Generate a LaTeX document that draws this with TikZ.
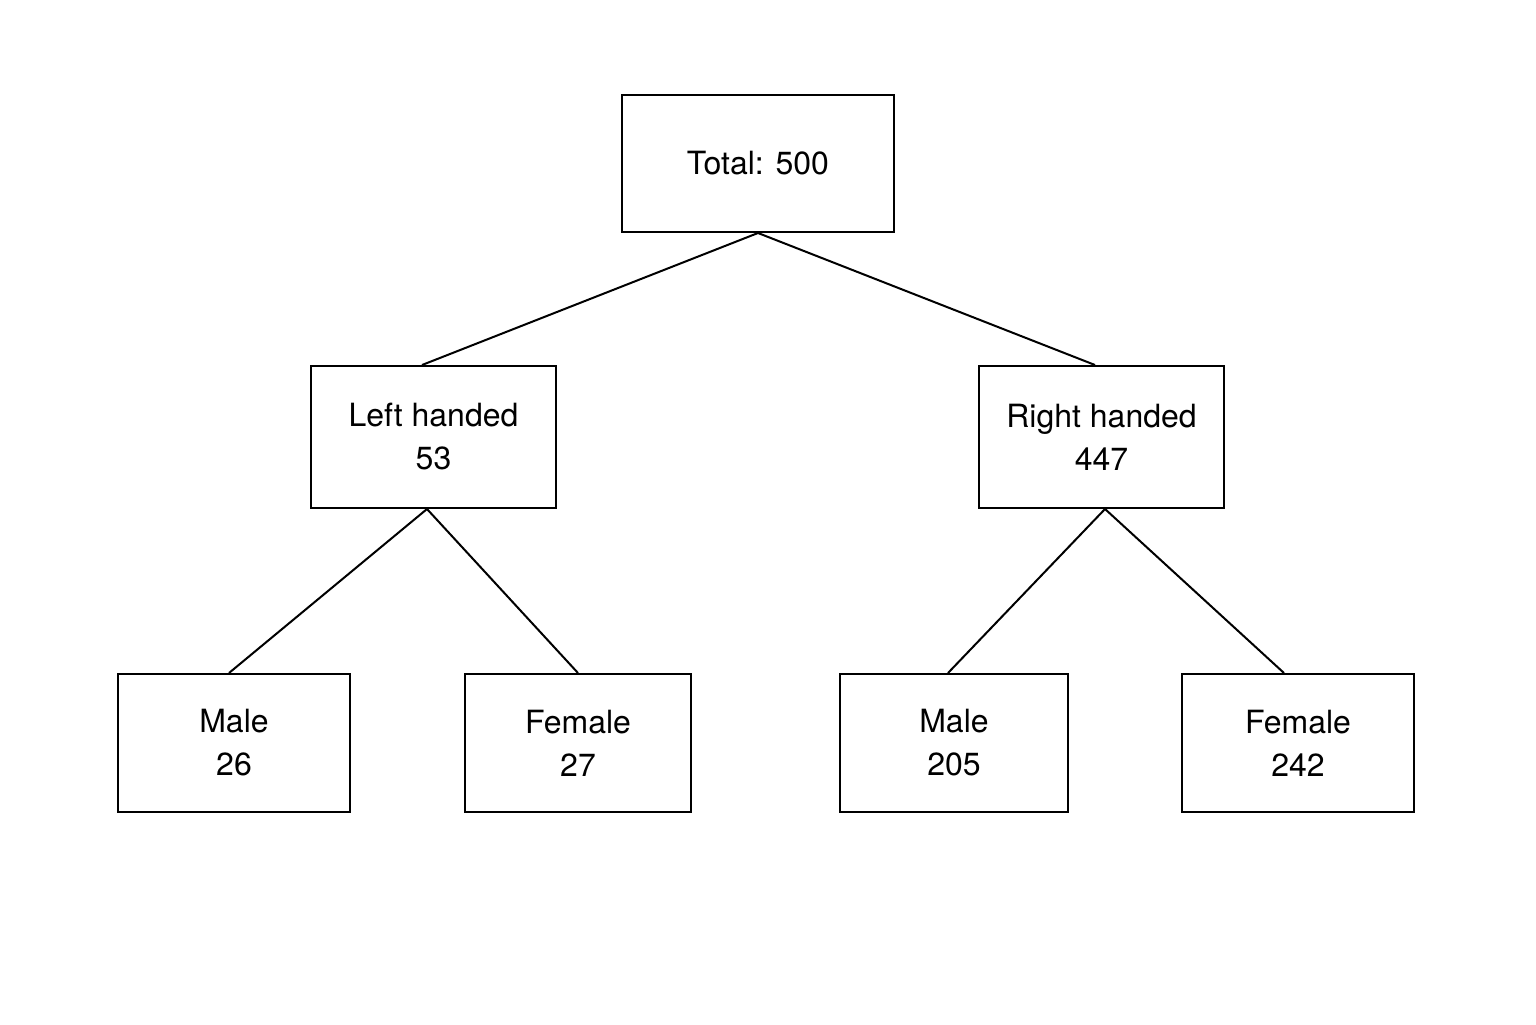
\documentclass[tikz,border=0pt]{standalone}
\usepackage{fontspec}
\setmainfont{TeX Gyre Heros}
\begin{document}
\begin{tikzpicture}[x=0.5pt,y=-0.5pt,
 box/.style={draw,line width=1pt,inner sep=0pt,align=center,font=\fontsize{16}{21.5}\selectfont},
 ln/.style={line width=1pt}]
\useasboundingbox (0,0) rectangle (1536,1024);
\node[box,minimum width=136pt,minimum height=68.5pt] (t) at (758,163.5) {Total: 500};
\node[box,minimum width=122.5pt,minimum height=71pt] (l) at (433.5,437) {Left handed\\53};
\node[box,minimum width=122.5pt,minimum height=71pt] (r) at (1101.5,437) {Right handed\\447};
\node[box,minimum width=116pt,minimum height=69pt] (lm) at (234,743) {Male\\26};
\node[box,minimum width=113pt,minimum height=69pt] (lf) at (578,743) {Female\\27};
\node[box,minimum width=114pt,minimum height=69pt] (rm) at (954,743) {Male\\205};
\node[box,minimum width=116pt,minimum height=69pt] (rf) at (1298,743) {Female\\242};
\draw[ln] (t.south) -- ([xshift=-5.75pt]l.north);
\draw[ln] (t.south) -- ([xshift=-3.25pt]r.north);
\draw[ln] ([xshift=-3.25pt]l.south) -- ([xshift=-2.5pt]lm.north);
\draw[ln] ([xshift=-3.25pt]l.south) -- (lf.north);
\draw[ln] ([xshift=1.75pt]r.south) -- ([xshift=-3pt]rm.north);
\draw[ln] ([xshift=1.75pt]r.south) -- ([xshift=-7pt]rf.north);
\end{tikzpicture}
\end{document}
